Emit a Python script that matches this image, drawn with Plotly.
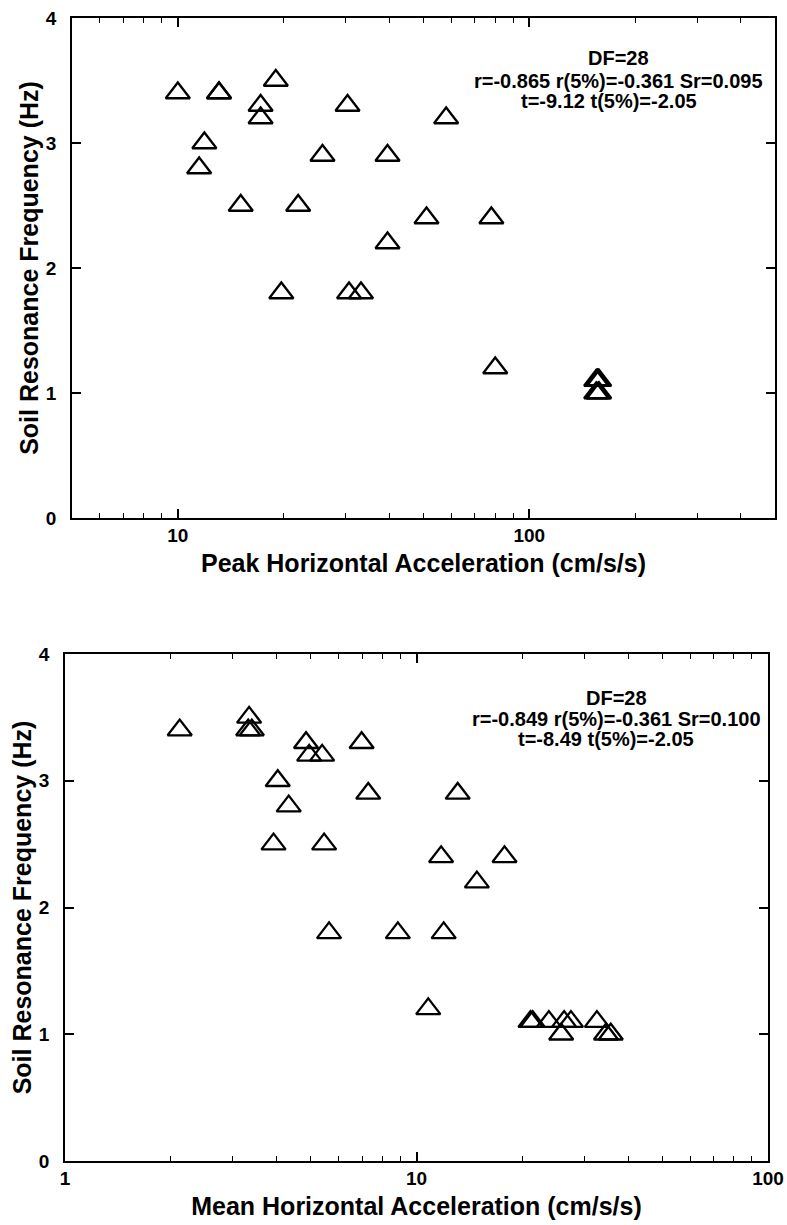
import math
import plotly.graph_objects as go

# Soil resonance frequency (Hz) against peak horizontal acceleration (cm/s/s)
peak_acc = [10.0, 13.1, 13.1, 19.0, 17.2, 17.2, 30.4, 58.0, 11.9, 11.5,
            25.8, 39.5, 15.1, 22.0, 51.0, 78.0, 39.5, 19.7, 30.7, 33.2,
            80.0, 155, 156, 157, 158, 156, 157, 155, 157, 158]
peak_freq = [3.4, 3.4, 3.4, 3.5, 3.3, 3.2, 3.3, 3.2, 3.0, 2.8,
             2.9, 2.9, 2.5, 2.5, 2.4, 2.4, 2.2, 1.8, 1.8, 1.8,
             1.2, 1.1, 1.1, 1.1, 1.1, 1.1, 1.1, 1.0, 1.0, 1.0]

# Soil resonance frequency (Hz) against mean horizontal acceleration (cm/s/s)
mean_acc = [2.12, 3.32, 3.40, 3.34, 4.85, 4.95, 5.39, 6.98, 4.03, 4.33,
            7.29, 13.1, 3.92, 5.46, 11.75, 17.8, 14.85, 5.64, 8.85, 11.95,
            10.8, 21.1, 21.4, 23.8, 26.3, 27.5, 32.6, 25.8, 34.6, 35.7]
mean_freq = [3.4, 3.4, 3.4, 3.5, 3.3, 3.2, 3.2, 3.3, 3.0, 2.8,
             2.9, 2.9, 2.5, 2.5, 2.4, 2.4, 2.2, 1.8, 1.8, 1.8,
             1.2, 1.1, 1.1, 1.1, 1.1, 1.1, 1.1, 1.0, 1.0, 1.0]

# Regression statistics printed in each panel
stats_peak = ["DF=28", "r=-0.865 r(5%)=-0.361 Sr=0.095", "t=-9.12 t(5%)=-2.05"]
stats_mean = ["DF=28", "r=-0.849 r(5%)=-0.361 Sr=0.100", "t=-8.49 t(5%)=-2.05"]

# Axis settings
freq_ticks = [0, 1, 2, 3, 4]
peak_range = [5, 500]
peak_major = [10, 100]
peak_minor = [6, 7, 8, 9, 20, 30, 40, 50, 60, 70, 80, 90, 200, 300, 400]
mean_range = [1, 100]
mean_major = [1, 10, 100]
mean_minor = [2, 3, 4, 5, 6, 7, 8, 9, 20, 30, 40, 50, 60, 70, 80, 90]

FONT = "Liberation Sans, Arial, Helvetica, sans-serif"
W, H = 787, 1225

fig = go.Figure()

marker = dict(symbol="triangle-up-open", size=21, color="black",
              line=dict(color="black", width=2.3))

fig.add_trace(go.Scatter(x=peak_acc, y=peak_freq, mode="markers",
                         marker=marker, xaxis="x", yaxis="y",
                         showlegend=False, cliponaxis=False))
fig.add_trace(go.Scatter(x=mean_acc, y=mean_freq, mode="markers",
                         marker=marker, xaxis="x2", yaxis="y2",
                         showlegend=False, cliponaxis=False))


def xaxis_style(rng, major, minor, title):
    return dict(
        type="log", range=[math.log10(rng[0]), math.log10(rng[1])],
        tickvals=major, ticktext=[str(v) for v in major],
        ticks="inside", ticklen=9, tickwidth=1.5, tickcolor="black",
        minor=dict(tickvals=minor, ticks="inside", ticklen=5,
                   tickwidth=1.2, tickcolor="black", showgrid=False),
        showline=True, linecolor="black", linewidth=1.5, mirror="ticks",
        showgrid=False, zeroline=False, automargin=False,
        tickfont=dict(family=FONT, size=19, color="black", weight="bold"),
        ticklabelstandoff=-1,
        title=dict(text=title, standoff=10,
                   font=dict(family=FONT, size=25, color="black",
                             weight="bold")),
    )


def yaxis_style(title):
    return dict(
        range=[0, 4], tickvals=freq_ticks,
        ticks="inside", ticklen=9, tickwidth=1.5, tickcolor="black",
        showline=True, linecolor="black", linewidth=1.5, mirror="ticks",
        showgrid=False, zeroline=False, automargin=False,
        tickfont=dict(family=FONT, size=19, color="black", weight="bold"),
        ticklabelstandoff=10,
        title=dict(text=title, standoff=0,
                   font=dict(family=FONT, size=25, color="black",
                             weight="bold")),
    )


top_x = [72 / W, 775 / W]
top_y = [1 - 518 / H, 1 - 18 / H]
bot_x = [65 / W, 768 / W]
bot_y = [1 - 1161 / H, 1 - 654 / H]

fig.update_layout(
    width=W, height=H,
    margin=dict(l=0, r=0, t=0, b=0, autoexpand=False),
    paper_bgcolor="white", plot_bgcolor="white",
    font=dict(family=FONT, color="black"),
    xaxis=dict(domain=top_x, anchor="y",
               **xaxis_style(peak_range, peak_major, peak_minor,
                             "Peak Horizontal Acceleration (cm/s/s)")),
    yaxis=dict(domain=top_y, anchor="x",
               **yaxis_style("Soil Resonance Frequency (Hz)")),
    xaxis2=dict(domain=bot_x, anchor="y2",
                **xaxis_style(mean_range, mean_major, mean_minor,
                              "Mean Horizontal Acceleration (cm/s/s)")),
    yaxis2=dict(domain=bot_y, anchor="x2",
                **yaxis_style("Soil Resonance Frequency (Hz)")),
)

# Statistics block, one annotation per line
stat_font = dict(family=FONT, size=20, color="black", weight="bold")
peak_pos = [(0.777, 0.920), (0.777, 0.873), (0.764, 0.833)]
mean_pos = [(0.784, 0.913), (0.784, 0.872), (0.770, 0.832)]

for text, (px, py) in zip(stats_peak, peak_pos):
    fig.add_annotation(text=text, xref="x domain", yref="y domain",
                       x=px, y=py, xanchor="center", yanchor="middle",
                       showarrow=False, font=stat_font)
for text, (px, py) in zip(stats_mean, mean_pos):
    fig.add_annotation(text=text, xref="x2 domain", yref="y2 domain",
                       x=px, y=py, xanchor="center", yanchor="middle",
                       showarrow=False, font=stat_font)

fig.write_html("out.html")
